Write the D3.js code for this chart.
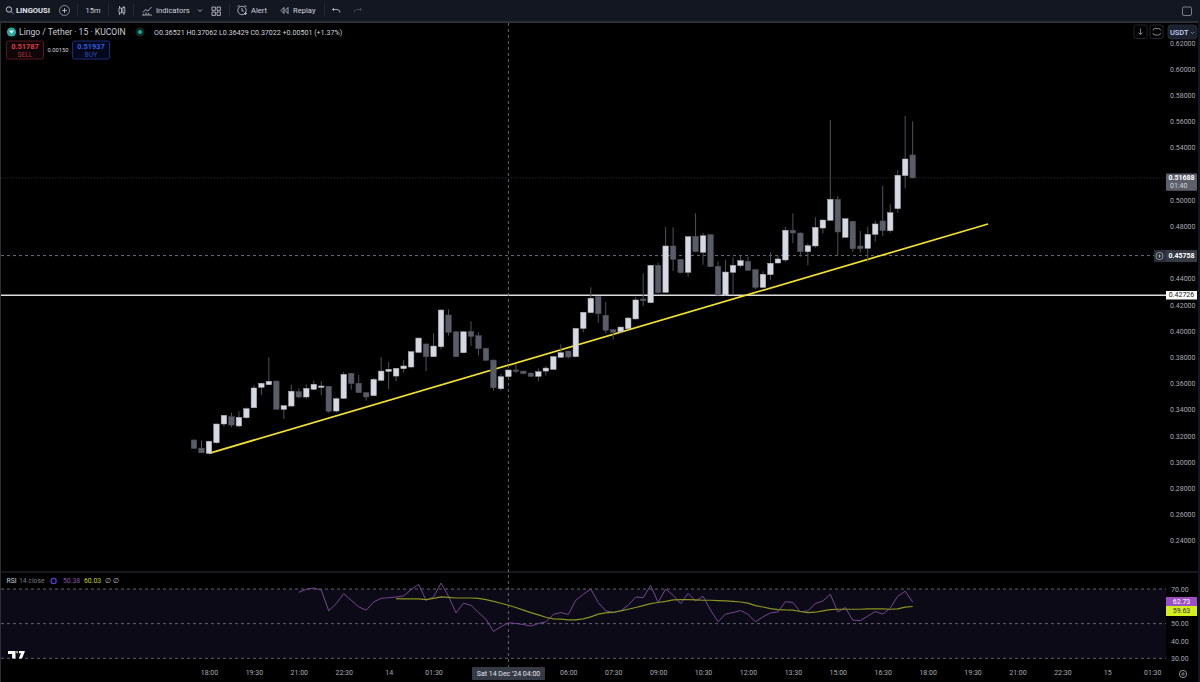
<!DOCTYPE html>
<html>
<head>
<meta charset="utf-8">
<title>Lingo / Tether</title>
<script src="https://cdn.jsdelivr.net/npm/d3@7"></script>
<style>
  html, body { margin: 0; background: #000; overflow: hidden; }
  text { font-family: Roboto, "Noto Sans", sans-serif; }
  .axis path, .axis line { display: none; }
  .axis text { fill: #a8abb4; font-size: 7px; }
</style>
</head>
<body>
<div id="chart"></div>
<script>
// candles, 15m bars, first bar is 17:30
var opens = [.3168,.3106,.3066,.3147,.3290,.3346,.3275,.3338,.3414,.3570,.3590,.3618,.3402,.3427,.3537,.3496,.3555,.3570,.3578,.3389,.3486,.3677,.3601,.3529,.3506,.3623,.3692,.3656,.3712,.3725,.3837,.3901,.3804,.3880,.4122,.3994,.3834,.3997,.3964,.3868,.3778,.3559,.36521,.3702,.3694,.3679,.3654,.3694,.3707,.3799,.3847,.3804,.4020,.4140,.4262,.4120,.4010,.3994,.4017,.4092,.4244,.4216,.4501,.4295,.4649,.4547,.4448,.4723,.4601,.4735,.4494,.4275,.4448,.4499,.4532,.4468,.4333,.4430,.4519,.4542,.4769,.4748,.4605,.4649,.4786,.4845,.5005,.4715,.4837,.4649,.4631,.4738,.4840,.4766,.4934,.5186,.5344];
var highs = [.3172,.3165,.3162,.3294,.3360,.3376,.3387,.3417,.3585,.3605,.3799,.3622,.3434,.3590,.3562,.3593,.3620,.3618,.3582,.3494,.3687,.3681,.3666,.3534,.3641,.3801,.3763,.3719,.3778,.3846,.3950,.3905,.3982,.4165,.4165,.3998,.3998,.4074,.3990,.3873,.3782,.3672,.37062,.3746,.3698,.3683,.3715,.3733,.3809,.3898,.3851,.4025,.4147,.4334,.4267,.4222,.4014,.4034,.4107,.4260,.4440,.4505,.4521,.4796,.4791,.4551,.4724,.4898,.4750,.4739,.4532,.4542,.4562,.4572,.4567,.4472,.4456,.4601,.4572,.4796,.4898,.4752,.4669,.4868,.4851,.5611,.5030,.4861,.4841,.4763,.4796,.4842,.5107,.4967,.5229,.5641,.5600];
var lows = [.3100,.3070,.3066,.3139,.3269,.3265,.3265,.3330,.3410,.3511,.3588,.3400,.3328,.3423,.3486,.3483,.3549,.3511,.3376,.3376,.3482,.3552,.3526,.3468,.3503,.3616,.3557,.3618,.3681,.3715,.3833,.3694,.3800,.3860,.3964,.3800,.3830,.3885,.3814,.3772,.3544,.3544,.36429,.3679,.3670,.3650,.3616,.3659,.3702,.3795,.3791,.3800,.3990,.4136,.4063,.3982,.3936,.3990,.4013,.4088,.4191,.4212,.4288,.4291,.4458,.4441,.4414,.4601,.4506,.4487,.4271,.4271,.4275,.4483,.4459,.4318,.4329,.4391,.4515,.4529,.4669,.4567,.4501,.4636,.4743,.4841,.4575,.4711,.4605,.4597,.4529,.4682,.4725,.4751,.4903,.5089,.5166];
var closes = [.3104,.3070,.3158,.3290,.3356,.3282,.3341,.3407,.3565,.3601,.3616,.3402,.3430,.3540,.3496,.3562,.3593,.3580,.3387,.3483,.3669,.3598,.3529,.3496,.3631,.3694,.3707,.3715,.3733,.3842,.3946,.3804,.3885,.4160,.3990,.3804,.3994,.3959,.3865,.3776,.3567,.3651,.37022,.3692,.3674,.3654,.3689,.3717,.3804,.3834,.3801,.4020,.4143,.4250,.4132,.4005,.3990,.4030,.4099,.4237,.4231,.4501,.4292,.4649,.4547,.4445,.4720,.4605,.4727,.4491,.4275,.4450,.4501,.4537,.4463,.4333,.4433,.4517,.4550,.4769,.4748,.4605,.4651,.4791,.4847,.5005,.4756,.4857,.4628,.4628,.4738,.4817,.4766,.4903,.5189,.5313,.51688];

// rsi starts at bar 14, its moving average at bar 27
var rsiStart = 14;
var rsiValues = [68.1,69.8,70.6,69.4,57.4,61.6,67.3,63.5,59.7,57.8,62.5,64.6,65,65.4,66,69.6,72.7,63.5,65.4,73.4,65.8,56.2,61.8,60.6,56.4,52.6,45.5,48.2,50.5,50.1,49.5,48.6,50.1,51,55.3,56.4,55.3,63.5,66.9,70,62.2,57.4,56.4,57.4,60.6,65.4,65,72.1,62.2,70,66.4,61.6,67.5,63.1,65.8,57.8,51.1,55.5,56.4,57.6,55.3,51.1,53.9,56.2,56.8,62.7,62.2,56.8,57.4,61.6,63.1,66.9,56.8,59.3,52,51.8,54.3,57,55.5,58.9,65.8,68.7,62.5];
var maStart = 27;
var rsiMa = [64.4,64.3,64.3,64.3,63.9,64.6,65.4,65.2,64.8,64.8,64.8,64.6,63.9,62.9,61.8,60.6,59.3,57.8,56.4,55.1,53.7,52.8,52.6,52.2,52.2,52.8,53.9,55.5,56.2,56.6,57.4,58.3,59.3,60.4,61.6,62.2,62.9,63.7,63.9,63.9,63.7,63.5,63.5,63.3,63.1,62.9,62.5,61.8,60.4,59.6,58.7,58.1,57.9,57.8,57,56.4,56.6,57.4,58.1,58.3,58.3,58.3,58.3,58.5,58.5,58.5,58.3,58.5,59.5,59.9];

// 0.52 and 0.46 sit under the price tags, so they are left out
var priceTicks = [.62,.60,.58,.56,.54,.50,.48,.44,.42,.40,.38,.36,.34,.32,.30,.28,.26,.24];
var rsiTicks = [70,50,40,30];
var rsiBands = [70,50,30];
// 03:00 and 04:30 sit under the crosshair tag
var timeLabels = ['18:00','19:30','21:00','22:30','14','01:30','06:00','07:30','09:00','10:30','12:00','13:30','15:00','16:30','18:00','19:30','21:00','22:30','15','01:30'];
var timeBars = [2,8,14,20,26,32,50,56,62,68,74,80,86,92,98,104,110,116,122,128];

var supportPrice = 0.42726;
var dashedPrice = 0.45758;
var lastPrice = 0.51688;
var crosshairBar = 42;
var trendBars = [2, 106.07];
var trendPrices = [0.3066, 0.4817];

var svgWidth = 1200, svgHeight = 682;
var paneRight = 1166;

var svg = d3.select('#chart').append('svg')
  .attr('width', svgWidth)
  .attr('height', svgHeight)
  .style('display', 'block');

// scales
var x = d3.scaleLinear().domain([-25.915, 129.84]).range([0, paneRight]);
var y = d3.scaleLinear().domain([0.63511, 0.21603]).range([23, 572]);
var yRsi = d3.scaleLinear().domain([70, 30]).range([589, 658.3]);

// frame, toolbar
svg.append('rect').attr('width', svgWidth).attr('height', svgHeight).attr('fill', '#000');
svg.append('rect').attr('width', svgWidth).attr('height', 21).attr('fill', '#131722');
svg.append('rect').attr('y', 21).attr('width', svgWidth).attr('height', 2).attr('fill', '#2a2e39');
svg.append('rect').attr('x', 0).attr('y', 21).attr('width', 1).attr('height', 661).attr('fill', '#2a2e39');
svg.append('rect').attr('x', 1198).attr('y', 21).attr('width', 2).attr('height', 661).attr('fill', '#131722');
svg.append('rect').attr('y', 571.5).attr('width', 1198).attr('height', 1).attr('fill', '#2a2e39');

// price pane lines
var lines = svg.append('g');
lines.append('line').attr('x1', 1).attr('x2', paneRight)
  .attr('y1', y(lastPrice)).attr('y2', y(lastPrice))
  .attr('stroke', '#33363e').attr('stroke-width', 0.7).attr('stroke-dasharray', '1.5 1.5');
lines.append('line').attr('x1', 1).attr('x2', 1154)
  .attr('y1', y(dashedPrice)).attr('y2', y(dashedPrice))
  .attr('stroke', '#6b6e78').attr('stroke-width', 1).attr('stroke-dasharray', '3 3');
lines.append('line').attr('x1', 1).attr('x2', paneRight)
  .attr('y1', y(supportPrice)).attr('y2', y(supportPrice))
  .attr('stroke', '#dcdcdc').attr('stroke-width', 1.6);
lines.append('line')
  .attr('x1', x(trendBars[0])).attr('x2', x(trendBars[1]))
  .attr('y1', y(trendPrices[0])).attr('y2', y(trendPrices[1]))
  .attr('stroke', '#f2e22c').attr('stroke-width', 1.7);

// rsi pane
svg.append('rect')
  .attr('x', 1).attr('y', yRsi(70)).attr('width', paneRight - 1).attr('height', yRsi(30) - yRsi(70))
  .attr('fill', '#0d0a17');
svg.append('g').selectAll('line').data(rsiBands).enter().append('line')
  .attr('x1', 1).attr('x2', paneRight)
  .attr('y1', d => yRsi(d)).attr('y2', d => yRsi(d))
  .attr('stroke', '#787b86').attr('stroke-width', 0.8).attr('stroke-dasharray', '3 3');

// crosshair
svg.append('line')
  .attr('x1', x(crosshairBar)).attr('x2', x(crosshairBar)).attr('y1', 23).attr('y2', 667)
  .attr('stroke', '#6b6e78').attr('stroke-width', 0.9).attr('stroke-dasharray', '3 3');

// candles
var bodyWidth = (x(1) - x(0)) * 0.74;
var candles = svg.append('g').selectAll('g').data(opens).enter().append('g');

candles.append('line')
  .attr('x1', (d, i) => x(i)).attr('x2', (d, i) => x(i))
  .attr('y1', (d, i) => y(highs[i])).attr('y2', (d, i) => y(lows[i]))
  .attr('stroke', '#4f525c').attr('stroke-width', 1);

candles.append('rect')
  .attr('x', (d, i) => x(i) - bodyWidth / 2)
  .attr('width', bodyWidth)
  .attr('y', (d, i) => y(Math.max(opens[i], closes[i])))
  .attr('height', (d, i) => Math.max(1, Math.abs(y(opens[i]) - y(closes[i]))))
  .attr('fill', (d, i) => closes[i] >= opens[i] ? '#d6d9e1' : '#5a5d68')
  .attr('stroke', (d, i) => closes[i] >= opens[i] ? '#a8abb4' : '#4c4f5a')
  .attr('stroke-width', 0.5);

// rsi lines
var rsiLine = d3.line().x(d => x(d.bar)).y(d => yRsi(d.value));
svg.append('path')
  .datum(rsiValues.map((v, i) => ({ bar: rsiStart + i, value: v })))
  .attr('d', rsiLine).attr('fill', 'none').attr('stroke', '#74488f').attr('stroke-width', 1);
svg.append('path')
  .datum(rsiMa.map((v, i) => ({ bar: maStart + i, value: v })))
  .attr('d', rsiLine).attr('fill', 'none').attr('stroke', '#8a941e').attr('stroke-width', 1.2);

// axes
svg.append('g').attr('class', 'axis')
  .attr('transform', `translate(${paneRight + 4}, 0)`)
  .call(d3.axisRight(y).tickValues(priceTicks).tickSize(0).tickPadding(0).tickFormat(d3.format('.5f')));
svg.append('g').attr('class', 'axis')
  .attr('transform', `translate(${paneRight + 5}, 0)`)
  .call(d3.axisRight(yRsi).tickValues(rsiTicks).tickSize(0).tickPadding(0).tickFormat(d3.format('.2f')));
svg.append('g').attr('class', 'axis')
  .attr('transform', 'translate(0, 670)')
  .call(d3.axisBottom(x).tickValues(timeBars).tickSize(0).tickPadding(0).tickFormat((d, i) => timeLabels[i]));

function label(txt, px, py, size, color, opts) {
  opts = opts || {};
  return svg.append('text').text(txt)
    .attr('x', px).attr('y', py)
    .attr('font-size', size).attr('fill', color)
    .attr('font-weight', opts.weight || 400)
    .attr('text-anchor', opts.anchor || 'start')
    .attr('dominant-baseline', 'central');
}

function box(px, py, w, h, fill, stroke, r) {
  return svg.append('rect').attr('x', px).attr('y', py).attr('width', w).attr('height', h)
    .attr('rx', r || 0).attr('fill', fill).attr('stroke', stroke || 'none').attr('stroke-width', 0.8);
}

// price tags
box(1166, 173.5, 31, 17.2, '#5d606b', null, 1);
label(d3.format('.5f')(lastPrice), 1181.5, 178.3, 7, '#fff', { weight: 700, anchor: 'middle' });
label('01:40', 1170, 186, 7, '#d1d4dc');

box(1154, 250, 12, 12, '#2a2e39');
svg.append('circle').attr('cx', 1159.5).attr('cy', 256).attr('r', 3.6)
  .attr('fill', 'none').attr('stroke', '#d1d4dc').attr('stroke-width', 0.6);
svg.append('path').attr('d', 'M1157.8 256h3.4M1159.5 254.3v3.4').attr('stroke', '#d1d4dc').attr('stroke-width', 0.6);
box(1166, 250, 31, 12, '#363a45');
label(d3.format('.5f')(dashedPrice), 1181.5, 256, 7, '#fff', { weight: 700, anchor: 'middle' });

box(1166, 291, 31, 8.5, '#fff');
label(d3.format('.5f')(supportPrice), 1181.5, 295.2, 7, '#131722', { anchor: 'middle' });

box(1166, 597, 31, 9, '#9c4fc4');
label('62.73', 1181.5, 601.5, 7, '#fff', { anchor: 'middle' });
box(1166, 606, 31, 10, '#d4ef1f');
label('59.63', 1181.5, 611, 7, '#333', { anchor: 'middle' });

// crosshair time tag
box(472, 667, 73, 13, '#363a45', null, 1);
label("Sat 14 Dec '24  04:00", 508.5, 673.5, 7, '#e0e3eb', { anchor: 'middle' });

// top right buttons
box(1134, 25, 13, 13.5, '#000', '#2a2e39', 2);
svg.append('path').attr('d', 'M1140.5 28.5v6M1138.5 32.5l2 2l2-2').attr('fill', 'none').attr('stroke', '#b2b5be').attr('stroke-width', 0.7);
box(1150, 25, 13, 13.5, '#000', '#2a2e39', 2);
svg.append('path').attr('d', 'M1153 30.5q0-2 2-2h3.5q2 0 2 2M1153 33q0 2 2 2h3.5q2 0 2-2').attr('fill', 'none').attr('stroke', '#b2b5be').attr('stroke-width', 0.7);
box(1168, 25, 29, 14, '#1a2230', '#2a2e39', 3);
label('USDT', 1170, 32.5, 7.4, '#c8d2f0', { weight: 500 });
svg.append('path').attr('d', 'M1191 32l1.6 1.6l1.6-1.6').attr('fill', 'none').attr('stroke', '#b2b5be').attr('stroke-width', 0.6);

// legend
svg.append('circle').attr('cx', 11.5).attr('cy', 32).attr('r', 4.6).attr('fill', '#2aa6a0');
svg.append('path').attr('d', 'M9 30.5h5l-2.5 3.5z').attr('fill', '#e6f6f5');
label('Lingo / Tether · 15 · KUCOIN', 19, 32, 8.6, '#c8ccd6');
svg.append('circle').attr('cx', 140).attr('cy', 32).attr('r', 4.5).attr('fill', '#0c2a28');
svg.append('circle').attr('cx', 140).attr('cy', 32).attr('r', 2).attr('fill', '#22ab94');
label('O0.36521  H0.37062  L0.36429  C0.37022  +0.00501 (+1.37%)', 154, 32, 7.1, '#d1d4dc');

box(6.5, 41, 37, 18, '#0d0507', '#6a1f2b', 2);
label('0.51787', 25, 46.5, 7.4, '#e23a48', { weight: 700, anchor: 'middle' });
label('SELL', 25, 54.5, 6.6, '#b5303d', { anchor: 'middle' });
label('0.00150', 58, 50, 5.8, '#d1d4dc', { anchor: 'middle' });
box(72.5, 41, 37, 18, '#05081a', '#1c3a96', 2);
label('0.51937', 91, 46.5, 7.4, '#2f5fe8', { weight: 700, anchor: 'middle' });
label('BUY', 91, 54.5, 6.6, '#2a4fb8', { anchor: 'middle' });

// rsi legend
label('RSI', 6.5, 581, 6.8, '#c8ccd6');
label('14 close', 19, 581, 6.8, '#787b86');
svg.append('circle').attr('cx', 53.6).attr('cy', 581).attr('r', 2.6).attr('fill', 'none').attr('stroke', '#5b3fd6').attr('stroke-width', 1.2);
label('50.38', 63, 581, 6.8, '#8a56b0');
label('60.03', 84, 581, 6.8, '#c5d420');
label('∅', 105, 581, 6.8, '#b2b5be');
label('∅', 113, 581, 6.8, '#b2b5be');

// tv logo, cut by the bottom band
svg.append('path').attr('fill', '#fff')
  .attr('d', 'M8 651h7.5v7.5h-3.4v-4.6H8zM16.5 651h1.2v2.2h-1.2zM19 651h6l-3 7.5h-3.2l2.2-5.3h-2z');

// toolbar contents
var icon = { fill: 'none', stroke: '#c8ccd6' };
function toolPath(d) {
  return svg.append('path').attr('d', d).attr('fill', icon.fill).attr('stroke', icon.stroke).attr('stroke-width', 0.8);
}
function sep(px) { svg.append('rect').attr('x', px).attr('y', 4).attr('width', 0.8).attr('height', 12).attr('fill', '#2a2e39'); }

svg.append('circle').attr('cx', 9).attr('cy', 9.5).attr('r', 2.7).attr('fill', 'none').attr('stroke', '#d1d4dc').attr('stroke-width', 0.9);
toolPath('M11 11.5l2.2 2.2');
label('LINGOUSI', 16, 10.5, 7.6, '#e0e3eb', { weight: 700 });
svg.append('circle').attr('cx', 64.5).attr('cy', 10.5).attr('r', 5).attr('fill', 'none').attr('stroke', '#b2b5be').attr('stroke-width', 0.7);
toolPath('M62 10.5h5M64.5 8v5');
sep(77);
label('15m', 93, 10.5, 7.4, '#d1d4dc', { anchor: 'middle' });
sep(108);
toolPath('M119 8h2.5v5H119zM119.5 6v2M119.5 13v2M122.8 7.5h2v5.5h-2zM123.8 6v1.5M123.8 13v2');
sep(133);
toolPath('M142 15h10M143 12.5l2.5-3l2.5 1.5l3.5-4M143.5 14.8v-1M146 14.8v-2.5M148.5 14.8v-2');
label('Indicators', 156, 10.5, 7.6, '#d1d4dc');
toolPath('M198 9.5l2 2l2-2');
toolPath('M212 7h3.4v3.4H212zM217 7h3.4v3.4H217zM212 12h3.4v3.4H212zM217 12h3.4v3.4H217z');
sep(229);
svg.append('circle').attr('cx', 242).attr('cy', 10.5).attr('r', 4.2).attr('fill', 'none').attr('stroke', '#c8ccd6').attr('stroke-width', 0.8);
toolPath('M237.5 7l2-2M246.5 7l-2-2M242 8v3h2M244 13.5h3M245.5 12v3');
label('Alert', 251, 10.5, 7.6, '#d1d4dc');
toolPath('M284 7.5l-3 3l3 3zM288 7.5l-3 3l3 3z');
label('Replay', 293, 10.5, 7.6, '#d1d4dc');
sep(324);
toolPath('M334 8l-1.5 1.5l1.5 1.5M332.5 9.5h4.5q3 0 3 3');
svg.append('path').attr('d', 'M360 8l1.5 1.5l-1.5 1.5M361.5 9.5h-4.5q-3 0-3 3').attr('fill', 'none').attr('stroke', '#4a4e59').attr('stroke-width', 0.8);
box(1182.5, 7, 9, 8.5, 'none', '#9598a1', 1.5);

// gear
svg.append('circle').attr('cx', 1183).attr('cy', 674).attr('r', 3.6).attr('fill', 'none').attr('stroke', '#b2b5be').attr('stroke-width', 0.8);
svg.append('circle').attr('cx', 1183).attr('cy', 674).attr('r', 1.2).attr('fill', 'none').attr('stroke', '#b2b5be').attr('stroke-width', 0.7);
</script>
</body>
</html>
